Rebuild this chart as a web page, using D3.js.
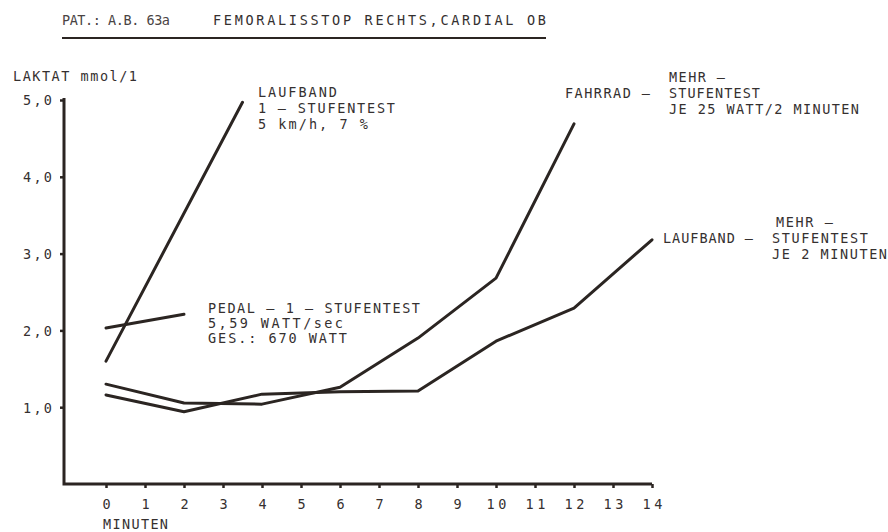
<!DOCTYPE html>
<html><head><meta charset="utf-8">
<script src="https://cdn.jsdelivr.net/npm/d3@7"></script>
<style>
html,body{margin:0;padding:0;background:#fff;overflow:hidden;}
text{font-family:"DejaVu Sans Mono",monospace;font-size:13.5px;fill:#353030;}
</style></head><body><svg id="c" width="888" height="532"></svg>
<script>
// ---- data ----
const minuteTicks = [0,1,2,3,4,5,6,7,8,9,10,11,12,13,14];
const minuteLabels = ["0","1","2","3","4","5","6","7","8","9","10","11","12","13","14"];
const laktatTicks = [1,2,3,4,5];
const laktatLabels = ["1,0","2,0","3,0","4,0","5,0"];

const laufband1Min = [0, 3.5];
const laufband1Lak = [1.60, 4.97];
const pedal1Min = [0, 2];
const pedal1Lak = [2.03, 2.21];
const fahrradMin = [0, 2, 4, 6, 8, 10, 12];
const fahrradLak = [1.30, 1.055, 1.04, 1.26, 1.90, 2.68, 4.69];
const laufbandMMin = [0, 2, 4, 6, 8, 10, 12, 14];
const laufbandMLak = [1.16, 0.94, 1.17, 1.20, 1.21, 1.86, 2.29, 3.18];

// ---- layout ----
const svg = d3.select("#c");
const ink = "#2b2522";
const x = d3.scaleLinear([0, 14], [106, 652]);
const y = d3.scaleLinear([0, 5], [484, 100]);
const axisX0 = 64;

function label(t, px, py, w, anchor) {
  const el = svg.append("text").attr("x", px).attr("y", py).text(t)
    .attr("text-anchor", anchor || "start");
  if (w) el.attr("textLength", w).attr("lengthAdjust", "spacing");
  return el;
}

// title
label("PAT.: A.B. 63a", 62, 25, 108).style("fill", "#4a4444");
label("FEMORALISSTOP RECHTS,CARDIAL OB", 213, 25, 333);
svg.append("line").attr("x1", 62).attr("x2", 546).attr("y1", 38).attr("y2", 38)
  .attr("stroke", ink).attr("stroke-width", 2);

// axes lines
svg.append("path")
  .attr("d", `M${axisX0},${y(5) - 2}L${axisX0},${y(0)}L${x(14)},${y(0)}`)
  .attr("fill", "none").attr("stroke", ink).attr("stroke-width", 3)
  .attr("stroke-linejoin", "miter");

// y axis ticks
const yAxis = d3.axisLeft(y).tickValues(laktatTicks).tickSize(4).tickSizeOuter(0)
  .tickPadding(8).tickFormat((d, i) => laktatLabels[i]);
const gy = svg.append("g").attr("transform", `translate(${axisX0},0)`).call(yAxis);
gy.select(".domain").remove();
gy.selectAll(".tick line").attr("stroke", ink).attr("stroke-width", 2.5);
gy.selectAll(".tick text").attr("font-family", null).attr("font-size", null)
  .attr("textLength", 29).attr("lengthAdjust", "spacing").attr("dy", "0.36em");

// x axis ticks
const xAxis = d3.axisBottom(x).tickValues(minuteTicks).tickSize(4).tickSizeOuter(0)
  .tickPadding(11).tickFormat((d, i) => minuteLabels[i]);
const gx = svg.append("g").attr("transform", `translate(0,${y(0)})`).call(xAxis);
gx.select(".domain").remove();
gx.selectAll(".tick line").attr("stroke", ink).attr("stroke-width", 2.5);
gx.selectAll(".tick text").attr("font-family", null).attr("font-size", null)
  .attr("dy", "0.71em")
  .each(function (d, i) { if (minuteLabels[i].length > 1) d3.select(this).attr("textLength", 20).attr("lengthAdjust", "spacing"); });

// axis titles
label("LAKTAT mmol/1", 13, 81, 124);
label("MINUTEN", 103, 529, 65);

// data lines
const line = d3.line().x(d => x(d[0])).y(d => y(d[1]));
const series = [
  [laufband1Min, laufband1Lak],
  [pedal1Min, pedal1Lak],
  [fahrradMin, fahrradLak],
  [laufbandMMin, laufbandMLak]
];
series.forEach(([mx, ly]) => {
  svg.append("path").datum(mx.map((m, i) => [m, ly[i]]))
    .attr("d", line).attr("fill", "none").attr("stroke", ink)
    .attr("stroke-width", 3).attr("stroke-linejoin", "round").attr("stroke-linecap", "round");
});

// annotations
label("LAUFBAND", 258, 97, 79);
label("1 – STUFENTEST", 258, 113, 137);
label("5 km/h, 7 %", 258, 129, 110);

label("PEDAL – 1 – STUFENTEST", 208, 313, 212);
label("5,59 WATT/sec", 208, 328, 135);
label("GES.: 670 WATT", 208, 343, 139);

label("MEHR –", 669, 82, 56);
label("FAHRRAD –", 565, 98, 85);
label("STUFENTEST", 669, 98, 91);
label("JE 25 WATT/2 MINUTEN", 669, 114, 190);

label("MEHR –", 776, 227, 57);
label("LAUFBAND –", 663, 243, 90);
label("STUFENTEST", 772, 243, 96);
label("JE 2 MINUTEN", 772, 259, 115);
</script></body></html>
